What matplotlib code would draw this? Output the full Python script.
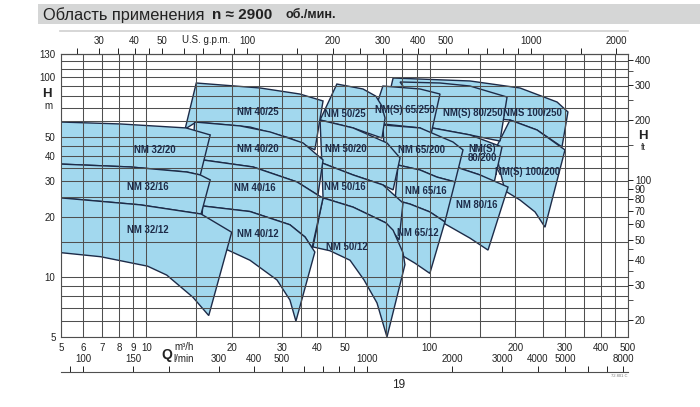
import matplotlib
matplotlib.use("Agg")
import matplotlib.pyplot as plt
from matplotlib.patches import Polygon, Rectangle
from matplotlib.lines import Line2D
from matplotlib.ticker import FixedLocator, NullFormatter, NullLocator

plt.rcParams['font.family'] = ['Liberation Sans', 'DejaVu Sans']

# grid and tick values
q_grid = [5, 6, 7, 8, 9, 10, 15, 20, 25, 30, 35, 40, 45, 50, 60, 70, 80, 90,
          100, 150, 200, 250, 300, 350, 400, 450, 500]
h_grid = [5, 6, 7, 8, 9, 10, 15, 20, 25, 30, 35, 40, 45, 50, 60, 70, 80, 90,
          100, 110, 120, 130]
q_labels = [5, 6, 7, 8, 9, 10, 20, 30, 40, 50, 100, 200, 300, 400, 500]
h_labels = [5, 10, 20, 30, 40, 50, 100, 130]
ft_major = [20, 30, 40, 50, 60, 70, 80, 90, 100, 200, 300, 400]
ft_minor = [25, 35, 45, 150, 250, 350]
gpm_major = [30, 40, 50, 100, 200, 300, 400, 500, 1000, 2000]
gpm_minor = [25, 35, 45, 60, 70, 80, 90, 150, 250, 350, 600, 700, 800, 900, 1500]
lmin_major = [100, 150, 300, 400, 500, 1000, 2000, 3000, 4000, 5000, 8000]
lmin_minor = [90, 200, 600, 700, 800, 900, 6000, 7000]

# pump ranges, outline points (Q m3/h, H m): top left->right, then bottom right->left
nm32_20 = [(5, 59.4), (8.1, 58.1), (13.8, 55.5), (16.8, 51.2), (15.5, 32.3),
           (13.9, 33.4), (8.8, 35.4), (5, 36.6)]
nm32_16 = [(5, 36.6), (8.8, 35.4), (13.9, 33.4), (15.5, 32.3), (16.8, 30.5),
           (15.6, 20.6), (9.5, 22.9), (5, 24.8)]
nm32_12 = [(5, 24.8), (9.5, 22.9), (15.6, 20.6), (20.0, 16.7), (16.6, 6.4),
           (14.6, 7.9), (11.8, 10.2), (10.1, 11.3), (6.9, 12.6), (5, 13.2)]
nm40_25 = [(15.0, 93.1), (25.2, 87.9), (34.8, 82.0), (42.0, 75.7), (39.3, 43.1),
           (32.1, 49.4), (23.2, 56.1), (15.0, 59.4), (13.7, 54.8)]
nm40_20 = [(14.8, 59.4), (21.4, 56.8), (27.3, 53.0), (35.7, 46.7), (42.0, 38.4),
           (40.3, 25.6), (34.0, 29.8), (23.8, 35.4), (15.8, 38.4), (14.5, 37.5)]
nm40_16 = [(15.8, 38.4), (23.8, 35.4), (34.0, 29.8), (40.3, 25.6), (42.0, 24.8),
           (38.4, 13.9), (36.3, 15.8), (32.1, 18.2), (23.2, 21.2), (15.8, 22.6),
           (14.5, 22.0)]
nm40_12 = [(15.8, 22.6), (23.2, 21.2), (32.1, 18.2), (36.3, 15.8), (39.3, 13.3),
           (33.7, 6.0), (32.1, 7.65), (28.9, 9.64), (23.2, 12.1), (19.4, 13.6),
           (15.5, 14.4)]
nm50_25 = [(47.0, 92.0), (58.1, 86.9), (64.5, 80.0), (67.5, 72.0), (69.5, 62.2),
           (67.8, 49.4), (53.6, 55.5), (41.0, 60.8)]
nm50_20 = [(41.0, 60.8), (53.6, 55.5), (70.6, 46.7), (78.5, 39.3), (74.2, 27.2),
           (68.3, 28.8), (53.6, 32.3), (41.6, 37.1)]
nm50_16 = [(41.6, 37.1), (53.6, 32.3), (68.3, 28.8), (80.4, 23.4), (77.9, 15.3),
           (70.0, 18.6), (53.6, 22.3), (42.0, 24.8)]
nm50_12 = [(42.0, 24.8), (53.6, 22.3), (70.0, 18.6), (74.2, 17.1), (80.4, 13.2),
           (81.7, 11.5), (70.6, 5.0), (65.1, 7.4), (58.6, 9.64), (52.3, 12.1),
           (44.4, 13.5), (38.7, 14.1)]
nm65_250 = [(68.3, 89.9), (92.3, 86.9), (108.6, 82.0), (101, 51.8), (92.3, 55.5),
            (68.3, 58.1), (61.5, 57.4)]
nm65_200 = [(68.3, 57.4), (92.3, 55.5), (120.7, 47.2), (130.9, 43.1), (122.7, 29.8),
            (106, 31.5), (92.3, 34.2), (77.2, 36.2), (69.5, 36.2)]
nm65_16 = [(77.2, 36.2), (92.3, 34.2), (106, 31.5), (122.7, 29.8), (113, 18.8),
           (100, 21.1), (85.1, 23.1), (75.4, 24.2)]
nm65_12 = [(75.4, 24.2), (85.1, 23.1), (100, 21.1), (113, 18.8), (100, 10.4),
           (88.6, 11.7), (80.4, 12.7), (75.4, 13.6)]
nm80_250 = [(78.5, 94.2), (108.6, 93.1), (138.6, 89.9), (187.2, 79.2), (176.8, 47.7),
            (138.6, 51.2), (101.8, 55.5)]
nm80_200 = [(101.8, 55.5), (138.6, 51.2), (179.7, 44.6), (168.4, 29.4), (150.3, 32.3),
            (117.8, 36.2), (96.2, 37.9)]
nm80_16 = [(96.2, 37.9), (117.8, 36.2), (150.3, 32.3), (188.7, 28.1), (160.4, 13.6),
           (138.6, 15.6), (113, 18.4)]
nm100_250 = [(74.2, 98.6), (138.6, 95.3), (208, 87.9), (281, 74.8), (307, 66.7),
             (292.5, 44.6), (238.8, 54.2), (191.8, 60.8), (117.8, 64.4), (71.2, 76.5)]
nm100_200 = [(191.8, 60.8), (238.8, 54.2), (299.7, 43.1), (254.8, 17.7), (235, 21.1),
             (208, 24.2), (184.1, 26.9), (169.7, 43.1)]

# drawing order: bottom first
ranges = [nm100_250, nm100_200, nm80_250, nm80_200, nm80_16,
          nm65_250, nm65_200, nm65_16, nm65_12,
          nm50_25, nm50_20, nm50_16, nm50_12,
          nm40_25, nm40_20, nm40_16, nm40_12,
          nm32_20, nm32_16, nm32_12]

label_text = ['NM 32/20', 'NM 32/16', 'NM 32/12', 'NM 40/25', 'NM 40/20', 'NM 40/16',
              'NM 40/12', 'NM 50/25', 'NM 50/20', 'NM 50/16', 'NM 50/12',
              'NM(S) 65/250', 'NM 65/200', 'NM 65/16', 'NM 65/12', 'NM(S) 80/250',
              'NM(S)\n80/200', 'NM 80/16', 'NMS 100/250', 'NM(S) 100/200']
label_q = [10.7, 10.1, 10.1, 24.8, 24.8, 24.2, 24.8, 50.2, 50.6, 50.2, 51.0,
           81.7, 93.1, 97, 90.8, 142, 153, 146.7, 231, 222]
label_h = [43.1, 28.1, 17.1, 66.7, 43.6, 27.8, 16.4, 65.2, 43.6, 28.1, 14.1,
           68.2, 43.1, 26.9, 16.6, 65.9, 41.3, 22.9, 65.9, 33.4]

W, H = 700, 407
fill_c = '#a2d8ee'
edge_c = '#1d2b48'
grid_c = '#4f4f4f'
txt_c = '#222222'

fig = plt.figure(figsize=(W / 100, H / 100), dpi=100)
ax = fig.add_axes([61 / W, 70 / H, 567 / W, 283 / H])
ax.set_xscale('log')
ax.set_yscale('log')
ax.set_xlim(5, 500)
ax.set_ylim(5, 130)

for i, pts in enumerate(ranges):
    ax.add_patch(Polygon(pts, closed=True, facecolor=fill_c, edgecolor=edge_c,
                         linewidth=1.0, zorder=2 + i * 0.1))

for q in q_grid:
    ax.axvline(q, color=grid_c, lw=0.75, zorder=10)
for h in h_grid:
    ax.axhline(h, color=grid_c, lw=0.75, zorder=10)

for t, q, h in zip(label_text, label_q, label_h):
    ax.text(q, h, t, ha='center', va='center', fontsize=6.9, fontweight='bold',
            color=edge_c, zorder=20, linespacing=0.95)

ax.xaxis.set_major_locator(FixedLocator(q_labels))
ax.set_xticklabels([str(v) for v in q_labels])
ax.xaxis.set_minor_locator(NullLocator())
ax.yaxis.set_major_locator(FixedLocator(h_labels))
ax.set_yticklabels([str(v) for v in h_labels])
ax.yaxis.set_minor_locator(NullLocator())
ax.tick_params(length=0, labelsize=7, colors=txt_c, pad=4)
for s in ax.spines.values():
    s.set_color(grid_c)
    s.set_linewidth(0.8)

# right axis in ft
axr = ax.twinx()
axr.set_yscale('log')
axr.set_ylim(5 * 3.28084, 130 * 3.28084)
axr.yaxis.set_major_locator(FixedLocator(ft_major))
axr.set_yticklabels([str(v) for v in ft_major])
axr.yaxis.set_minor_locator(FixedLocator(ft_minor))
axr.yaxis.set_minor_formatter(NullFormatter())
axr.tick_params(which='major', direction='out', length=3.5, width=0.7,
                labelsize=7, colors=txt_c, pad=1.5)
axr.tick_params(which='minor', direction='out', length=3.5, width=0.7, colors=grid_c)
for s in axr.spines.values():
    s.set_visible(False)

# top axis US gpm
secx = ax.secondary_xaxis('top', functions=(lambda q: q * 4.4029, lambda g: g / 4.4029))
secx.xaxis.set_major_locator(FixedLocator(gpm_major))
secx.set_xticklabels([str(v) for v in gpm_major])
secx.xaxis.set_minor_locator(FixedLocator(gpm_minor))
secx.xaxis.set_minor_formatter(NullFormatter())
secx.tick_params(which='both', direction='out', length=4, width=0.7,
                 labelsize=7, colors=txt_c, pad=1.5)
secx.spines['top'].set_color(grid_c)

# bottom axis l/min
axl = fig.add_axes([61 / W, 35 / H, 567 / W, 0.0001])
axl.set_xscale('log')
axl.set_xlim(5 * 16.667, 500 * 16.667)
axl.set_facecolor('none')
axl.yaxis.set_visible(False)
for k in ['left', 'right', 'bottom']:
    axl.spines[k].set_visible(False)
axl.spines['top'].set_color(grid_c)
axl.spines['top'].set_linewidth(0.8)
axl.xaxis.tick_top()
axl.xaxis.set_major_locator(FixedLocator(lmin_major))
axl.set_xticklabels([str(v) for v in lmin_major])
axl.xaxis.set_minor_locator(FixedLocator(lmin_minor))
axl.xaxis.set_minor_formatter(NullFormatter())
axl.tick_params(which='both', direction='out', length=4, width=0.7,
                labelsize=7, colors=txt_c, pad=1.5)


def ftext(x, y, s, **kw):
    kw.setdefault('color', txt_c)
    fig.text(x / W, 1 - y / H, s, **kw)


# title bar
fig.add_artist(Rectangle((38 / W, 1 - 24 / H), 1 - 38 / W, 20 / H,
                         transform=fig.transFigure, facecolor='#d5d6d6', edgecolor='none'))
fig.add_artist(Line2D([60 / W, 628 / W], [1 - 31 / H, 1 - 31 / H], transform=fig.transFigure,
                      color='#cfcfcf', lw=1.2))
ftext(43, 15, 'Область применения', fontsize=11.8, va='center', ha='left')
ftext(212, 15, 'n ≈ 2900', fontsize=11, fontweight='bold', va='center', ha='left')
ftext(285, 15.5, 'об./мин.', fontsize=9, fontweight='bold', va='center', ha='left')

ftext(206, 40, 'U.S. g.p.m.', fontsize=7, ha='center', va='center')
ftext(47, 94, 'H', fontsize=9.5, fontweight='bold', ha='center', va='center')
ftext(48, 106, 'm', fontsize=7, ha='center', va='center')
ftext(643, 136, 'H', fontsize=9.5, fontweight='bold', ha='center', va='center')
ftext(643, 147, 'ft', fontsize=6.5, ha='center', va='center')
ftext(167, 355, 'Q', fontsize=10, fontweight='bold', ha='center', va='center')
ftext(174, 347, 'm³/h', fontsize=7, ha='left', va='center')
ftext(173, 359, 'l/min', fontsize=7, ha='left', va='center')
ftext(399, 385, '19', fontsize=8.5, ha='center', va='center')
ftext(619, 376, '72.801 C', fontsize=3, ha='center', va='center', color='#777777')

fig.savefig('out.png', dpi=100)
